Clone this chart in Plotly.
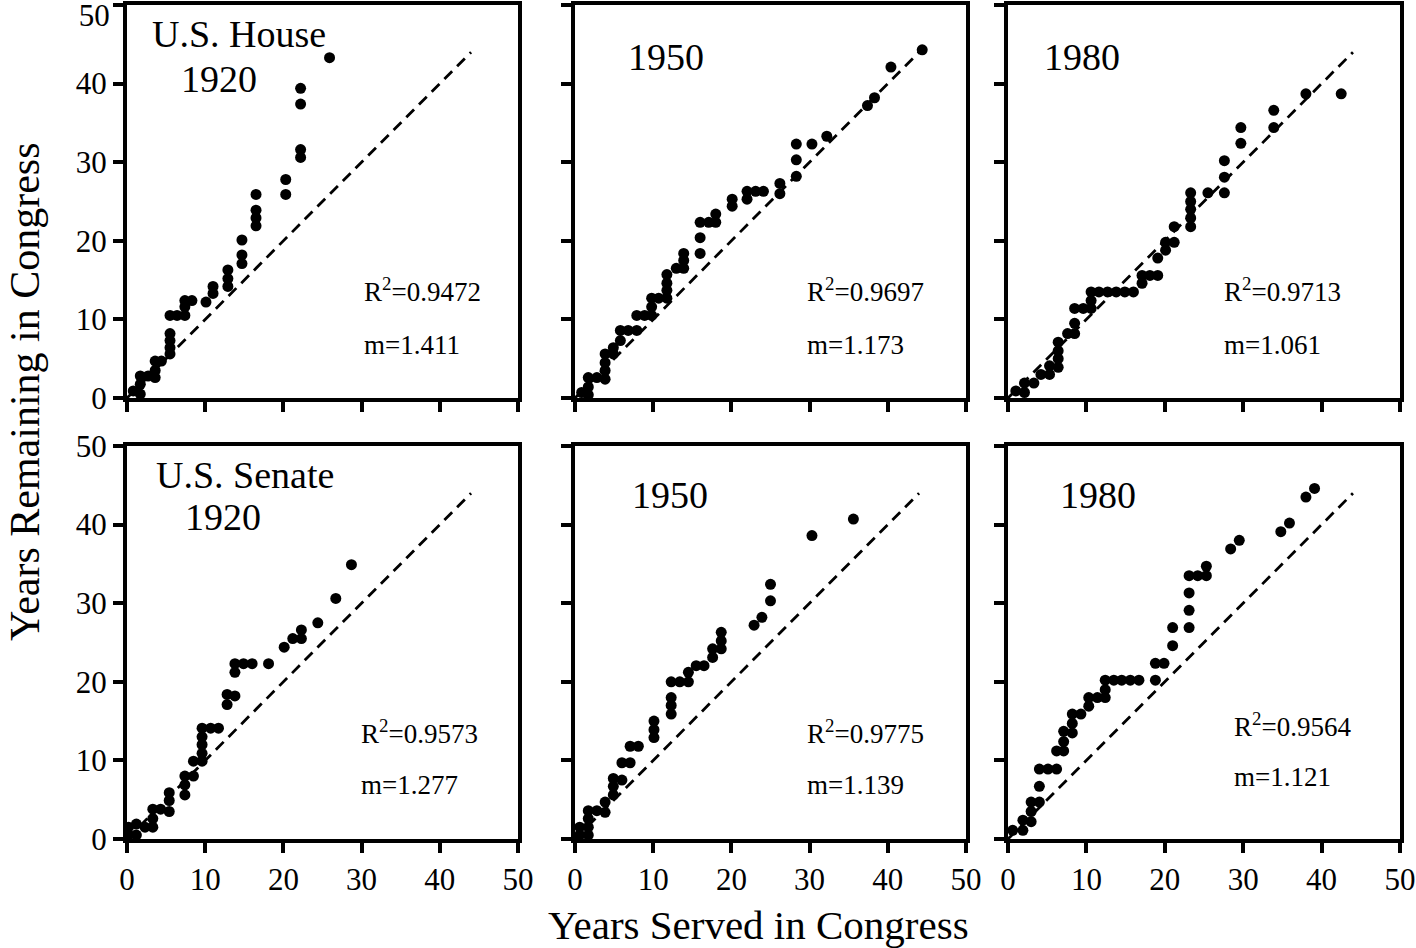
import plotly.graph_objects as go

# ---------------- data ----------------
ticks = [0, 10, 20, 30, 40, 50]
tick_labels = ["0", "10", "20", "30", "40", "50"]

house_1920_x = [0.8, 1.7, 1.7, 1.7, 2.7, 3.6, 3.6, 3.6, 4.4, 5.5, 5.5, 5.5, 5.5, 5.5, 6.4, 7.4, 7.4, 7.4, 8.3,
                10.1, 11.0, 11.0, 12.9, 12.9, 12.9, 14.7, 14.7, 14.7, 16.5, 16.5, 16.5, 16.5, 20.3, 20.3,
                22.2, 22.2, 22.2, 22.2, 25.9]
house_1920_y = [0.9, 0.5, 1.75, 2.8, 2.8, 2.6, 3.5, 4.7, 4.7, 5.6, 6.4, 7.3, 8.2, 10.5, 10.5, 10.5, 11.6, 12.4, 12.4,
                12.2, 13.3, 14.2, 14.2, 15.2, 16.3, 17.1, 18.2, 20.1, 21.9, 22.9, 23.9, 25.9, 25.9, 27.8,
                30.6, 31.6, 37.4, 39.4, 43.3]

house_1950_x = [0.85, 1.7, 1.7, 1.7, 2.8, 3.85, 3.85, 3.85, 3.85, 4.9, 4.9, 5.8, 5.8, 6.8, 7.9, 7.9, 8.9, 9.8, 9.8,
                9.8, 10.7, 11.75, 11.75, 11.75, 11.75, 12.95, 13.9, 13.9, 13.9, 16.0, 16.0, 16.0, 17.1, 18.0,
                18.0, 20.1, 20.1, 22.0, 22.0, 23.1, 24.1, 26.2, 26.2, 28.3, 28.3, 28.3, 30.3, 32.2, 37.4,
                38.3, 40.4, 44.4]
house_1950_y = [0.7, 0.4, 1.4, 2.6, 2.6, 2.4, 3.5, 4.5, 5.6, 5.6, 6.4, 7.3, 8.6, 8.6, 8.6, 10.5, 10.5, 10.5, 11.6,
                12.7, 12.7, 12.7, 13.7, 14.6, 15.7, 16.5, 16.5, 17.5, 18.4, 18.4, 20.4, 22.35, 22.35, 22.35,
                23.4, 24.4, 25.3, 25.3, 26.3, 26.3, 26.3, 26.0, 27.3, 28.2, 30.3, 32.3, 32.3, 33.3, 37.2,
                38.2, 42.1, 44.3]

house_1980_x = [1.0, 2.1, 2.1, 3.3, 4.2, 5.3, 5.3, 6.4, 6.4, 6.4, 6.4, 7.6, 8.5, 8.5, 8.5, 9.6, 10.6, 10.6, 10.6,
                11.6, 12.7, 13.8, 14.9, 16.0, 17.1, 17.1, 18.1, 19.1, 19.1, 20.1, 20.1, 21.2, 21.2, 23.3,
                23.3, 23.3, 23.3, 23.3, 25.5, 27.6, 27.6, 27.6, 29.7, 29.7, 33.9, 33.9, 38.0, 42.5]
house_1980_y = [0.9, 0.7, 1.9, 1.9, 3.0, 3.0, 4.1, 3.9, 5.0, 6.0, 7.1, 8.2, 8.2, 9.5, 11.4, 11.4, 11.4, 12.4, 13.5,
                13.5, 13.5, 13.5, 13.5, 13.5, 14.6, 15.6, 15.6, 15.6, 17.8, 18.8, 19.8, 19.8, 21.8, 21.8,
                22.9, 24.0, 25.0, 26.1, 26.1, 26.1, 28.1, 30.2, 32.4, 34.4, 34.4, 36.6, 38.7, 38.7]

senate_1920_x = [0.2, 0.2, 1.2, 1.2, 2.3, 3.3, 3.3, 3.3, 4.3, 5.4, 5.4, 5.4, 7.4, 7.4, 7.4, 8.5, 8.5, 9.6, 9.6,
                 9.6, 9.6, 9.6, 10.7, 11.7, 12.8, 12.8, 13.8, 13.8, 13.8, 14.9, 16.0, 18.1, 20.1, 21.2,
                 22.3, 22.3, 24.4, 26.7, 28.7]
senate_1920_y = [0.5, 1.5, 0.5, 1.9, 1.5, 1.5, 2.6, 3.8, 3.8, 3.5, 4.9, 5.9, 5.6, 6.9, 8.0, 8.0, 9.9, 9.9, 10.9,
                 12.0, 13.0, 14.1, 14.1, 14.1, 17.1, 18.4, 18.2, 21.2, 22.3, 22.3, 22.3, 22.3, 24.4, 25.5,
                 25.5, 26.6, 27.5, 30.6, 34.9]

senate_1950_x = [0.6, 0.6, 1.7, 1.7, 1.7, 1.7, 2.8, 3.85, 3.85, 4.9, 4.9, 4.9, 6.0, 6.0, 7.05, 7.05, 8.1, 10.1,
                 10.1, 10.1, 12.3, 12.3, 12.3, 12.3, 13.4, 14.5, 14.5, 15.5, 16.5, 17.6, 17.6, 18.7, 18.7,
                 18.7, 22.9, 23.9, 25.0, 25.0, 30.3, 35.6]
senate_1950_y = [0.5, 1.5, 0.5, 1.5, 2.6, 3.6, 3.6, 3.4, 4.7, 5.6, 6.7, 7.7, 7.5, 9.7, 9.7, 11.8, 11.8, 12.9,
                 13.9, 15.0, 15.9, 17.0, 18.0, 20.0, 20.0, 20.0, 21.2, 22.05, 22.05, 23.1, 24.2, 24.2, 25.2,
                 26.3, 27.2, 28.2, 30.3, 32.4, 38.6, 40.7]

senate_1980_x = [0.6, 1.9, 1.9, 2.95, 2.95, 2.95, 4.0, 4.0, 4.0, 5.1, 6.2, 6.2, 7.1, 7.1, 7.1, 8.2, 8.2, 8.2, 9.3,
                 10.3, 10.3, 11.4, 12.4, 12.4, 12.4, 13.5, 14.5, 15.6, 16.7, 18.8, 18.8, 19.9, 21.0, 21.0,
                 23.1, 23.1, 23.1, 23.1, 24.2, 25.3, 25.3, 28.4, 29.5, 34.8, 35.9, 38.0, 39.1]
senate_1980_y = [1.1, 1.1, 2.4, 2.2, 3.5, 4.7, 4.7, 6.7, 8.9, 8.9, 8.9, 11.2, 11.2, 12.4, 13.7, 13.5, 14.7, 15.9,
                 15.9, 16.9, 18.0, 18.0, 18.0, 19.0, 20.2, 20.2, 20.2, 20.2, 20.2, 20.2, 22.35, 22.35, 24.6,
                 26.9, 26.9, 29.1, 31.3, 33.5, 33.5, 33.5, 34.7, 36.9, 38.0, 39.1, 40.2, 43.5, 44.6]

identity_x = [0, 44]
identity_y = [0, 44]

panel_titles = ["U.S. House", "", "", "U.S. Senate", "", ""]
panel_years = ["1920", "1950", "1980", "1920", "1950", "1980"]
r2_labels = ["0.9472", "0.9697", "0.9713", "0.9573", "0.9775", "0.9564"]
slope_labels = ["1.411", "1.173", "1.061", "1.277", "1.139", "1.121"]

x_title = "Years Served in Congress"
y_title = "Years Remaining in Congress"

panels = [
    (house_1920_x, house_1920_y),
    (house_1950_x, house_1950_y),
    (house_1980_x, house_1980_y),
    (senate_1920_x, senate_1920_y),
    (senate_1950_x, senate_1950_y),
    (senate_1980_x, senate_1980_y),
]

# ---------------- layout geometry ----------------
W, H = 1416, 948
col_px = [(127, 518), (575, 966), (1008, 1400)]
row_px = [(5, 398), (446, 839)]

FONT = "Liberation Serif"

# per-panel text placement (data coords)
year_pos = [(6.7, 40.6), (6.5, 43.4), (4.3, 43.4), (7.2, 41.0), (7.0, 43.8), (6.4, 43.8)]
title_pos = [(2.9, 46.3), None, None, (3.4, 46.3), None, None]
r2_pos = [(30.0, 13.7), (29.4, 13.7), (27.3, 13.7), (29.7, 13.6), (29.4, 13.6), (28.6, 14.5)]
m_pos = [(30.0, 6.7), (29.4, 6.7), (27.3, 6.7), (29.7, 6.9), (29.4, 6.9), (28.6, 7.9)]

fig = go.Figure()
annotations = []

tickfont = dict(family=FONT, size=31, color="black")

for i, (px, py) in enumerate(panels):
    r, c = divmod(i, 3)
    n = i + 1
    xa = "x" if n == 1 else f"x{n}"
    ya = "y" if n == 1 else f"y{n}"

    fig.add_trace(go.Scatter(
        x=identity_x, y=identity_y, mode="lines", xaxis=xa, yaxis=ya,
        line=dict(color="black", width=2.8, dash="11px,7px"),
        hoverinfo="skip", showlegend=False))
    fig.add_trace(go.Scatter(
        x=px, y=py, mode="markers", xaxis=xa, yaxis=ya, cliponaxis=False,
        marker=dict(color="black", size=11, line=dict(width=0)),
        showlegend=False))

    x0, x1 = col_px[c]
    y0, y1 = row_px[r]
    axis_common = dict(
        range=[0, 50], tickmode="array", tickvals=ticks, ticktext=tick_labels,
        showgrid=False, zeroline=False, showline=True, linecolor="black", linewidth=4,
        mirror=True, ticks="outside", ticklen=10, tickwidth=4, tickcolor="black",
        tickfont=tickfont, automargin=False, ticklabeloverflow="allow",
    )
    yaxis_spec = dict(axis_common, domain=[(H - y1) / H, (H - y0) / H], anchor=xa,
                      showticklabels=(c == 0))
    if n == 1:
        # the topmost "50" label is drawn by an overlay axis, nudged down so it stays on the page
        yaxis_spec["ticktext"] = tick_labels[:-1] + [""]
    fig.layout[f"xaxis{'' if n == 1 else n}"] = dict(
        axis_common, domain=[x0 / W, x1 / W], anchor=ya,
        showticklabels=(r == 1))
    fig.layout[f"yaxis{'' if n == 1 else n}"] = yaxis_spec

    if title_pos[i] is not None:
        annotations.append(dict(
            x=title_pos[i][0], y=title_pos[i][1], xref=xa, yref=ya,
            text=panel_titles[i], showarrow=False, xanchor="left", yanchor="middle",
            font=dict(family=FONT, size=38, color="black")))
    annotations.append(dict(
        x=year_pos[i][0], y=year_pos[i][1], xref=xa, yref=ya,
        text=panel_years[i], showarrow=False, xanchor="left", yanchor="middle",
        font=dict(family=FONT, size=38, color="black")))
    annotations.append(dict(
        x=r2_pos[i][0], y=r2_pos[i][1], xref=xa, yref=ya,
        text="R<sup>2</sup>=" + r2_labels[i], showarrow=False, xanchor="left", yanchor="middle",
        font=dict(family=FONT, size=27, color="black")))
    annotations.append(dict(
        x=m_pos[i][0], y=m_pos[i][1], xref=xa, yref=ya,
        text="m=" + slope_labels[i], showarrow=False, xanchor="left", yanchor="middle",
        font=dict(family=FONT, size=27, color="black")))

# overlay axis for the top-left "50" label
fig.add_trace(go.Scatter(x=[], y=[], xaxis="x", yaxis="y7", showlegend=False, hoverinfo="skip"))
fig.layout["yaxis7"] = dict(
    overlaying="y", anchor="x", side="left", range=[0, 50],
    tickmode="array", tickvals=ticks[-1:], ticktext=tick_labels[-1:],
    showgrid=False, zeroline=False, showline=False,
    ticks="outside", ticklen=10, tickwidth=4, tickcolor="rgba(0,0,0,0)",
    tickfont=tickfont, automargin=False, ticklabeloverflow="allow",
    ticklabelshift=10,
)

annotations.append(dict(
    x=758 / W, y=(H - 925) / H, xref="paper", yref="paper", text=x_title,
    showarrow=False, xanchor="center", yanchor="middle",
    font=dict(family=FONT, size=41, color="black")))
annotations.append(dict(
    x=25 / W, y=(H - 392) / H, xref="paper", yref="paper", text=y_title,
    showarrow=False, xanchor="center", yanchor="middle", textangle=-90,
    font=dict(family=FONT, size=42, color="black")))

fig.update_layout(
    width=W, height=H, margin=dict(l=0, r=0, t=0, b=0),
    paper_bgcolor="white", plot_bgcolor="white",
    annotations=annotations, showlegend=False,
)

# place the fixed-size figure at the page's top-left corner (no default body margin)
fig.write_html("out.html", config={"displayModeBar": False},
               post_script="document.body.style.margin='0';")
